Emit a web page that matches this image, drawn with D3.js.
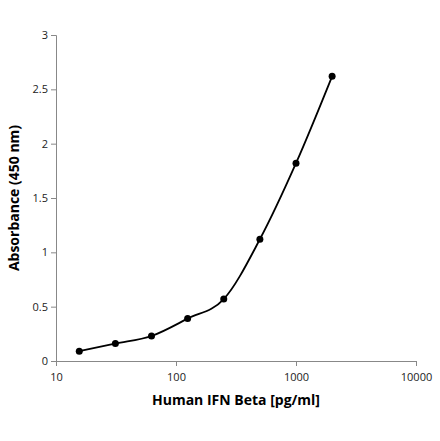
<!DOCTYPE html>
<html><head><meta charset="utf-8">
<script src="https://cdn.jsdelivr.net/npm/d3@7"></script>
<style>body{margin:0;background:#fff;font-family:"Open Sans",sans-serif;}</style>
</head><body><svg width="440" height="441"></svg>
<script>
var concentrations = [15.625, 31.25, 62.5, 125, 250, 500, 1000, 2000];
var absorbance = [0.09, 0.16, 0.23, 0.39, 0.57, 1.12, 1.82, 2.62];
var xTicks = [10, 100, 1000, 10000];
var yTicks = [0, 0.5, 1, 1.5, 2, 2.5, 3];

var svg = d3.select('svg');
var x = d3.scaleLog().domain([10, 10000]).range([56, 416]);
var y = d3.scaleLinear().domain([0, 3]).range([361, 35]);

svg.append('g').attr('transform', 'translate(0,361)')
    .call(d3.axisBottom(x).tickValues(xTicks).tickFormat(d3.format('d')).tickSize(5))
    .call(g => g.selectAll('text').attr('font-size', 11).attr('font-family', 'Open Sans').attr('fill', '#222').attr('dy', '1.1em'));
svg.append('g').attr('transform', 'translate(56,0)')
    .call(d3.axisLeft(y).tickValues(yTicks).tickFormat(d => d).tickSize(5))
    .call(g => g.selectAll('text').attr('font-size', 11).attr('font-family', 'Open Sans').attr('fill', '#222'));
svg.selectAll('.domain, .tick line').attr('stroke', '#888');

var pts = concentrations.map((c, i) => [c, absorbance[i]]);
var line = d3.line().x(d => x(d[0])).y(d => y(d[1])).curve(d3.curveMonotoneX);
svg.append('path').attr('d', line(pts)).attr('fill', 'none').attr('stroke', '#000').attr('stroke-width', 1.8);
svg.selectAll('circle').data(pts).enter().append('circle')
    .attr('cx', d => x(d[0])).attr('cy', d => y(d[1])).attr('r', 3.5).attr('fill', '#000');

svg.append('text').attr('x', 236).attr('y', 405).attr('text-anchor', 'middle')
    .attr('font-size', 14).attr('font-weight', 'bold').text('Human IFN Beta [pg/ml]');
svg.append('text').attr('transform', 'translate(19,198) rotate(-90)').attr('text-anchor', 'middle')
    .attr('font-size', 14).attr('font-weight', 'bold').text('Absorbance (450 nm)');
</script></body></html>
